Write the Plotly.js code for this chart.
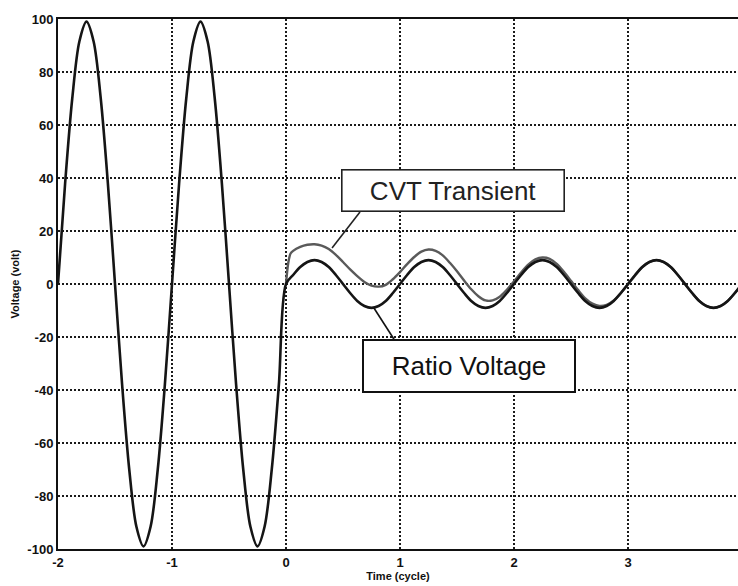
<!DOCTYPE html>
<html>
<head>
<meta charset="utf-8">
<script src="https://cdn.plot.ly/plotly-3.0.1.min.js"></script>
<style>
  html, body { margin: 0; padding: 0; background: #ffffff; }
  #chart { width: 738px; height: 586px; }
</style>
</head>
<body>
<div id="chart"></div>
<script>
// Ratio voltage, sampled every 1/16 cycle from -2 to 4
const ratioTime = [
  -2, -1.9375, -1.875, -1.8125, -1.75, -1.6875, -1.625, -1.5625,
  -1.5, -1.4375, -1.375, -1.3125, -1.25, -1.1875, -1.125, -1.0625,
  -1, -0.9375, -0.875, -0.8125, -0.75, -0.6875, -0.625, -0.5625,
  -0.5, -0.4375, -0.375, -0.3125, -0.25, -0.1875, -0.125, -0.0625,
  0, 0.0625, 0.125, 0.1875, 0.25, 0.3125, 0.375, 0.4375,
  0.5, 0.5625, 0.625, 0.6875, 0.75, 0.8125, 0.875, 0.9375,
  1, 1.0625, 1.125, 1.1875, 1.25, 1.3125, 1.375, 1.4375,
  1.5, 1.5625, 1.625, 1.6875, 1.75, 1.8125, 1.875, 1.9375,
  2, 2.0625, 2.125, 2.1875, 2.25, 2.3125, 2.375, 2.4375,
  2.5, 2.5625, 2.625, 2.6875, 2.75, 2.8125, 2.875, 2.9375,
  3, 3.0625, 3.125, 3.1875, 3.25, 3.3125, 3.375, 3.4375,
  3.5, 3.5625, 3.625, 3.6875, 3.75, 3.8125, 3.875, 3.9375,
  4
];
const ratioVolt = [
  0, 38, 70, 91.5, 99, 91.5, 70, 38,
  0, -38, -70, -91.5, -99, -91.5, -70, -38,
  0, 38, 70, 91.5, 99, 91.5, 70, 38,
  0, -38, -70, -91.5, -99, -91.5, -70, -38,
  0, 3.4, 6.4, 8.3, 9, 8.3, 6.4, 3.4,
  0, -3.4, -6.4, -8.3, -9, -8.3, -6.4, -3.4,
  0, 3.4, 6.4, 8.3, 9, 8.3, 6.4, 3.4,
  0, -3.4, -6.4, -8.3, -9, -8.3, -6.4, -3.4,
  0, 3.4, 6.4, 8.3, 9, 8.3, 6.4, 3.4,
  0, -3.4, -6.4, -8.3, -9, -8.3, -6.4, -3.4,
  0, 3.4, 6.4, 8.3, 9, 8.3, 6.4, 3.4,
  0, -3.4, -6.4, -8.3, -9, -8.3, -6.4, -3.4,
  0
];

// CVT transient output after the fault at t = 0
const cvtTime = [
  0, 0.02, 0.04, 0.0625, 0.125, 0.1875, 0.25, 0.3125, 0.375, 0.4375,
  0.5, 0.5625, 0.625, 0.6875, 0.75, 0.8125, 0.875, 0.9375,
  1, 1.0625, 1.125, 1.1875, 1.25, 1.3125, 1.375, 1.4375,
  1.5, 1.5625, 1.625, 1.6875, 1.75, 1.8125, 1.875, 1.9375,
  2, 2.0625, 2.125, 2.1875, 2.25, 2.3125, 2.375, 2.4375,
  2.5, 2.5625, 2.625, 2.6875, 2.75, 2.8125, 2.875, 2.9375,
  3, 3.0625, 3.125, 3.1875, 3.25, 3.3125, 3.375, 3.4375,
  3.5, 3.5625, 3.625, 3.6875, 3.75, 3.8125, 3.875, 3.9375,
  4
];
const cvtVolt = [
  0, 8, 11.5, 12.5, 14, 14.8, 15, 14.5, 13.2, 11,
  8.3, 5.5, 3, 0.8, -0.6, -1, -0.3, 1.8,
  4.5, 7.5, 10.2, 12.2, 13, 12.5, 10.8, 8,
  4.8, 1.3, -2, -4.6, -6.2, -6.2, -4.8, -2.2,
  1, 4.3, 7.3, 9.3, 10, 9.5, 7.6, 4.6,
  1.2, -2.3, -5.4, -7.4, -8.3, -7.9, -6.2, -3.4,
  -0.2, 3.2, 6.3, 8.3, 9, 8.3, 6.4, 3.4,
  0, -3.4, -6.4, -8.3, -9, -8.3, -6.4, -3.4,
  0
];

const xTicks = [-2, -1, 0, 1, 2, 3];
const yTicks = [-100, -80, -60, -40, -20, 0, 20, 40, 60, 80, 100];

const labelCVT = 'CVT Transient';
const labelRatio = 'Ratio Voltage';

const FONT = 'Liberation Sans, Arial, Helvetica, sans-serif';

const traces = [
  {
    x: cvtTime, y: cvtVolt, type: 'scatter', mode: 'lines',
    line: { color: '#5a5a5a', width: 2.4, shape: 'spline', smoothing: 0.9 },
    hoverinfo: 'skip', name: labelCVT
  },
  {
    x: ratioTime, y: ratioVolt, type: 'scatter', mode: 'lines',
    line: { color: '#151515', width: 2.6, shape: 'spline', smoothing: 0.9 },
    hoverinfo: 'skip', name: labelRatio
  }
];

const gridStyle = { gridcolor: '#1a1a1a', gridwidth: 1.2, griddash: '2px,2px' };

const layout = {
  width: 738, height: 586,
  margin: { l: 58, r: 0, t: 19, b: 37, pad: 0 },
  paper_bgcolor: '#ffffff', plot_bgcolor: '#ffffff',
  showlegend: false,
  font: { family: FONT, color: '#111111' },
  xaxis: Object.assign({
    range: [-2, 3.965], tickmode: 'array', tickvals: xTicks,
    ticktext: xTicks.map(String),
    showgrid: true, zeroline: false,
    showline: true, linecolor: '#111111', linewidth: 2, mirror: true,
    ticks: '', tickfont: { family: FONT, size: 13, color: '#111111', weight: 'bold' },
    title: { text: '<b>Time (cycle)</b>', font: { family: FONT, size: 11, color: '#111111' }, standoff: 4 }
  }, gridStyle),
  yaxis: Object.assign({
    range: [-100, 100], tickmode: 'array', tickvals: yTicks,
    ticktext: yTicks.map(String),
    showgrid: true, zeroline: false,
    showline: true, linecolor: '#111111', linewidth: 2, mirror: false,
    ticks: '', tickfont: { family: FONT, size: 13, color: '#111111', weight: 'bold' },
    title: { text: '<b>Voltage (volt)</b>', font: { family: FONT, size: 11, color: '#111111' }, standoff: 6 }
  }, gridStyle),
  shapes: [
    { type: 'line', xref: 'x', yref: 'y', x0: 0.649, y0: 27.2, x1: 0.404, y1: 13.6,
      line: { color: '#222222', width: 1.6 }, layer: 'above' },
    { type: 'line', xref: 'x', yref: 'y', x0: 0.947, y0: -20.8, x1: 0.772, y1: -9.1,
      line: { color: '#111111', width: 1.8 }, layer: 'above' }
  ],
  annotations: [
    { x: 1.465, y: 35.3, xref: 'x', yref: 'y', xanchor: 'center', yanchor: 'middle',
      text: labelCVT, showarrow: false,
      font: { family: FONT, size: 26, color: '#222222' },
      bgcolor: '#ffffff', bordercolor: '#222222', borderwidth: 1.6, borderpad: 0,
      width: 221, height: 40, align: 'center', valign: 'middle' },
    { x: 1.605, y: -30.9, xref: 'x', yref: 'y', xanchor: 'center', yanchor: 'middle',
      text: labelRatio, showarrow: false,
      font: { family: FONT, size: 26, color: '#111111' },
      bgcolor: '#ffffff', bordercolor: '#111111', borderwidth: 2, borderpad: 0,
      width: 210, height: 50, align: 'center', valign: 'middle' }
  ]
};

Plotly.newPlot('chart', traces, layout, { displayModeBar: false, staticPlot: true });
</script>
</body>
</html>
